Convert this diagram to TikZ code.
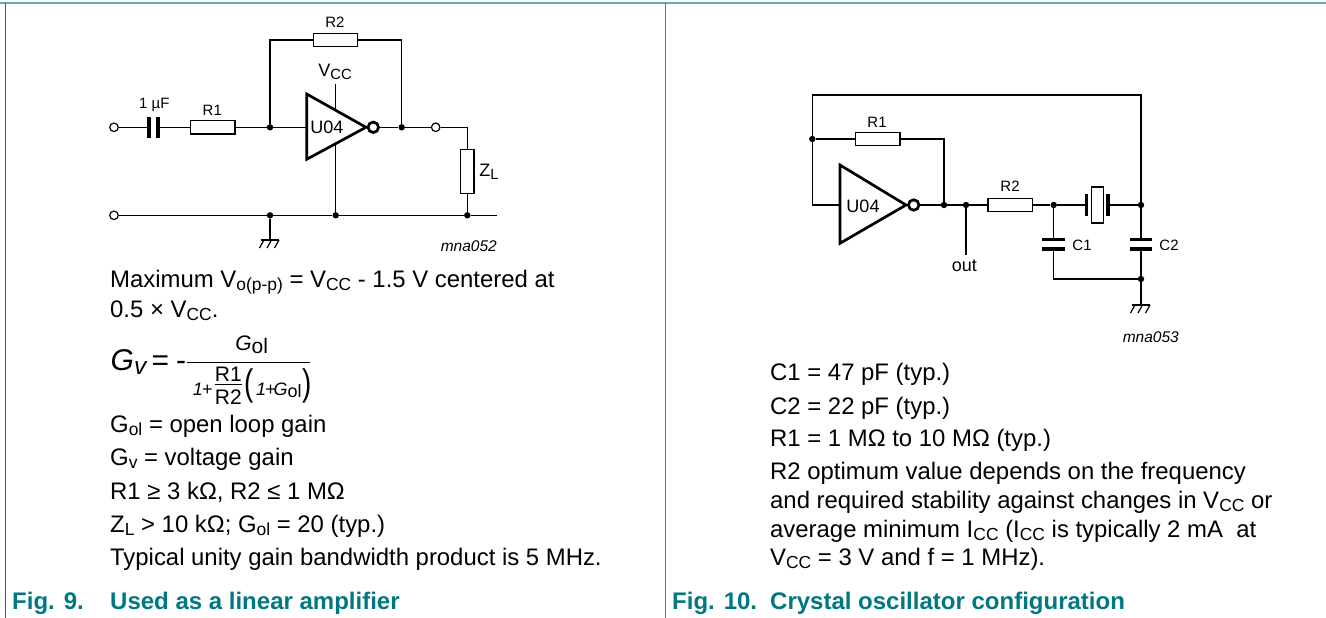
\documentclass[tikz,border=0pt]{standalone}
\usepackage{fontspec}
\setmainfont{Liberation Sans}
\definecolor{frameteal}{RGB}{0,120,130}
\definecolor{midteal}{RGB}{50,135,145}
\definecolor{topteal}{RGB}{100,170,178}
\newcommand{\lo}[1]{\raisebox{-.28ex}{\scalebox{.82}{#1}}}
\newcommand{\losub}[1]{\raisebox{-.28ex}{\scalebox{.73}{#1}}}
\newcommand{\lofull}[1]{\raisebox{-.28ex}{#1}}
\tikzset{
  wire/.style={black, line width=1.2pt},
  gatebody/.style={black, line width=2.7pt, line join=miter},
  res/.style={draw, black, line width=1.2pt, fill=white, minimum width=44.5pt, minimum height=13.4pt, inner sep=0pt},
  resv/.style={draw, black, line width=1.2pt, fill=white, minimum width=13.4pt, minimum height=44pt, inner sep=0pt},
  platev/.style={fill=black, minimum width=3.3pt, minimum height=21.5pt, inner sep=0pt},
  plateh/.style={fill=black, minimum width=22.5pt, minimum height=3.3pt, inner sep=0pt},
  dot/.style={circle, fill=black, minimum size=6.4pt, inner sep=0pt},
  term/.style={circle, draw, black, line width=1.2pt, fill=white, minimum size=8.5pt, inner sep=0pt},
  bubble/.style={circle, draw, black, line width=2.7pt, fill=white, minimum size=10.5pt, inner sep=0pt},
  lbl/.style={font=\fontsize{15}{17}\selectfont, inner sep=0pt},
  biglbl/.style={font=\fontsize{18}{20}\selectfont, inner sep=0pt},
  code/.style={font=\fontsize{15.5}{18}\selectfont\itshape, inner sep=0pt, anchor=base east},
  body/.style={font=\fontsize{23.9}{28}\selectfont, inner sep=0pt, anchor=base west},
  capt/.style={font=\fontsize{24}{28}\selectfont\bfseries, text=frameteal, inner sep=0pt, anchor=base west},
  frm/.style={font=\fontsize{21}{25}\selectfont, inner sep=0pt, anchor=base west},
  frmsmall/.style={font=\fontsize{18}{22}\selectfont\itshape, inner sep=0pt, anchor=base west},
  paren/.style={font=\fontsize{37}{38}\selectfont, inner sep=0pt, anchor=base west},
}
\begin{document}
\begin{tikzpicture}[x=1pt,y=-1pt]
    \useasboundingbox (0,0) rectangle (1326,618);
    % frame
    \draw[topteal, line width=2pt] (0,2.7) -- (1326,2.7);
    \draw[frameteal, line width=1pt] (5.3,3) -- (5.3,618);
    \draw[midteal, line width=1.5pt] (665.7,3) -- (665.7,618);
    % fig 9
    \node[term] (in) at (114,127.3) {};
    \node[platev] (c1l) at (149,127.3) {};
    \node[platev] (c1r) at (158,127.3) {};
    \node[res] (r1) at (212.8,127.3) {};
    \node[dot] (n1) at (270,127.3) {};
    \coordinate (u1i) at (306.7,127.3);
    \coordinate (u1a) at (306.7,94);
    \coordinate (u1b) at (306.7,159.3);
    \coordinate (u1c) at (366,127.3);
    \node[bubble] (u1o) at (373.3,127.3) {};
    \node[dot] (n2) at (401.7,127.3) {};
    \node[term] (t2) at (435.7,127.3) {};
    \coordinate (c1) at (467.3,127.3);
    \node[resv] (zl) at (467.3,171.3) {};
    \node[term] (gnd) at (114,215.3) {};
    \node[dot] (n3) at (270,215.3) {};
    \node[dot] (n4) at (335.7,215.3) {};
    \node[dot] (n5) at (467.3,215.3) {};
    \coordinate (e1) at (496.7,215.3);
    \node[res] (r2) at (335.5,40) {};
    \coordinate (c2) at (270,40);
    \coordinate (c3) at (401.7,40);
    \coordinate (vcc) at (335.7,84);
    \coordinate (u1t) at (335.7,109);
    \coordinate (u1l) at (335.7,143.5);
    \coordinate (g1) at (270,240);
    \draw[wire] (in) -- (c1l);
    \draw[wire] (c1r) -- (r1);
    \draw[wire] (r1) -- (n1) -- (u1i);
    \draw[wire] (u1o) -- (n2) -- (t2) -- (c1) -- (zl) -- (n5);
    \draw[wire] (gnd) -- (n3) -- (n4) -- (n5) -- (e1);
    \draw[wire] (n1) -- (c2) -- (r2) -- (c3) -- (n2);
    \draw[wire] (vcc) -- (u1t);
    \draw[wire] (u1l) -- (n4);
    \draw[wire] (n3) -- (g1);
    \draw[gatebody] (u1a) -- (u1b) -- (u1c) -- cycle;
    \draw[wire] (260.5,240) -- (279,240);
    \foreach \x in {264,271.5,279}
        \draw[wire] (\x,240) -- (\x-4.5,248);
    \node[lbl] (l1) at (335,22) {R2};
    \node[lbl] (l2) at (154.3,105) {1 µF};
    \node[lbl] (l3) at (212.3,110) {R1};
    \node[biglbl] (l4) at (335,72) {V\lo{CC}};
    \node[biglbl] (l5) at (327,127.3) {U04};
    \node[biglbl] (l6) at (489,172) {Z\lo{L}};
    \node[code] (l7) at (497,251) {mna052};
    % text of fig 9
    \node[body] (a1) at (110,287) {Maximum V\losub{o(p-p)} = V\losub{CC} - 1.5 V centered at};
    \node[body] (a2) at (110,317) {0.5 × V\losub{CC}.};
    \node[font=\fontsize{30}{32}\selectfont\itshape, inner sep=0pt, anchor=base west] (gv) at (110.5,370) {G\lo{v}};
    \node[font=\fontsize{30}{32}\selectfont, inner sep=0pt, anchor=base west] (eq) at (151.5,370) {=};
    \node[font=\fontsize{30}{32}\selectfont, inner sep=0pt, anchor=base west] (mn) at (176,370) {-};
    \coordinate (fr1) at (186.7,362.3);
    \coordinate (fr2) at (310,362.3);
    \draw[black, line width=1.3pt] (fr1) -- (fr2);
    \node[frm, anchor=base] (num) at (251.7,350) {\textit{G}\lofull{ol}};
    \node[frmsmall] (d1) at (192.7,395) {1\kern-1pt+};
    \node[frm, anchor=base] (d2) at (228.3,381.7) {R1};
    \coordinate (fr3) at (215,384.3);
    \coordinate (fr4) at (242,384.3);
    \draw[black, line width=1.2pt] (fr3) -- (fr4);
    \node[frm, anchor=base] (d3) at (228.3,404) {R2};
    \node[paren] (d4) at (244,395) {\scalebox{.75}[1]{(}};
    \node[frmsmall] (d5) at (256,395) {1\kern-1pt+};
    \node[frmsmall] (d6) at (273.5,395) {G\lofull{\upshape ol}};
    \node[paren] (d7) at (302,395) {\scalebox{.75}[1]{)}};
    \node[body] (a3) at (110,432) {G\losub{ol} = open loop gain};
    \node[body] (a4) at (110,465) {G\losub{v} = voltage gain};
    \node[body] (a5) at (110,499) {R1 ≥ 3 kΩ, R2 ≤ 1 MΩ};
    \node[body] (a6) at (110,532) {Z\losub{L} > 10 kΩ; G\losub{ol} = 20 (typ.)};
    \node[body] (a7) at (110,565) {Typical unity gain bandwidth product is 5 MHz.};
    \node[capt] (f1) at (12,609) {Fig. 9.};
    \node[capt] (f2) at (110,609) {Used as a linear amplifier};
    % fig 10
    \coordinate (c4) at (812.3,95);
    \coordinate (c5) at (1141,95);
    \node[dot] (m1) at (812.3,139) {};
    \node[res] (r3) at (877.8,139) {};
    \coordinate (c6) at (944,139);
    \coordinate (c7) at (812.3,205);
    \coordinate (u2a) at (840,165);
    \coordinate (u2b) at (840,243.3);
    \coordinate (u2c) at (906,205);
    \coordinate (u2i) at (840,205);
    \node[bubble] (u2o) at (913.7,205) {};
    \node[dot] (m2) at (944,205) {};
    \node[dot] (m3) at (966,205) {};
    \coordinate (o1) at (966,255);
    \node[res] (r4) at (1010.2,205) {};
    \node[dot] (m4) at (1053.7,205) {};
    \node[platev] (x1) at (1086.7,205) {};
    \node[draw, black, line width=1.2pt, fill=white, minimum width=11.6pt, minimum height=36pt, inner sep=0pt] (x2) at (1097.5,205) {};
    \node[platev] (x3) at (1108,205) {};
    \node[dot] (m5) at (1141,205) {};
    \node[plateh] (c1t) at (1053.7,239.5) {};
    \node[plateh] (c1b) at (1053.7,249) {};
    \node[plateh] (c2t) at (1141,239.5) {};
    \node[plateh] (c2b) at (1141,249) {};
    \coordinate (c8) at (1053.7,279);
    \node[dot] (m6) at (1141,279) {};
    \coordinate (g2) at (1141,305);
    \draw[wire] (m1) -- (r3) -- (c6) -- (m2);
    \draw[wire] (u2i) -- (c7) -- (m1) -- (c4) -- (c5) -- (m5);
    \draw[wire] (u2o) -- (m2) -- (m3) -- (r4) -- (m4) -- (x1);
    \draw[wire] (x3) -- (m5);
    \draw[wire] (m3) -- (o1);
    \draw[wire] (m4) -- (c1t);
    \draw[wire] (c1b) -- (c8) -- (m6);
    \draw[wire] (m5) -- (c2t);
    \draw[wire] (c2b) -- (m6) -- (g2);
    \draw[gatebody] (u2a) -- (u2b) -- (u2c) -- cycle;
    \draw[wire] (1131.5,305) -- (1150,305);
    \foreach \x in {1135,1142.5,1150}
        \draw[wire] (\x,305) -- (\x-4.5,313);
    \node[lbl] (k1) at (877,122) {R1};
    \node[lbl] (k2) at (1010,186) {R2};
    \node[lbl] (k3) at (1082,245) {C1};
    \node[lbl] (k4) at (1169,245) {C2};
    \node[biglbl] (k5) at (964.3,266) {out};
    \node[biglbl] (k6) at (863,206) {U04};
    \node[code] (k7) at (1179,342) {mna053};
    % text of fig 10
    \node[body] (b1) at (770,380) {C1 = 47 pF (typ.)};
    \node[body] (b2) at (770,414) {C2 = 22 pF (typ.)};
    \node[body] (b3) at (770,446) {R1 = 1 MΩ to 10 MΩ (typ.)};
    \node[body] (b4) at (770,479) {R2 optimum value depends on the frequency};
    \node[body] (b5) at (770,508) {and required stability against changes in V\losub{CC} or};
    \node[body] (b6) at (770,537) {average minimum I\losub{CC} (I\losub{CC} is typically 2 mA\ \ at};
    \node[body] (b7) at (770,565) {V\losub{CC} = 3 V and f = 1 MHz).};
    \node[capt] (f3) at (672,609) {Fig. 10.};
    \node[capt] (f4) at (770,609) {Crystal oscillator configuration};
\end{tikzpicture}
\end{document}
